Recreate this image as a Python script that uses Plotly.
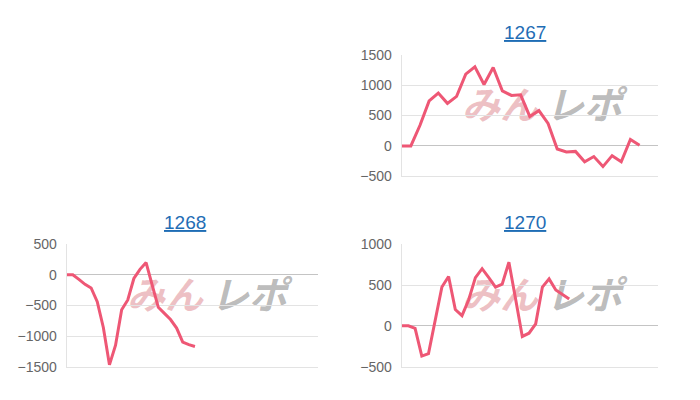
import plotly.graph_objects as go

# 1267
x_1267 = list(range(27))
y_1267 = [0, 0, 340, 740, 870, 700, 815, 1180, 1300, 1010, 1290, 905, 830, 840,
          485, 580, 370, -50, -100, -90, -260, -175, -340, -160, -260, 105, 10]

# 1268
x_1268 = list(range(22))
y_1268 = [0, 0, -75, -155, -215, -440, -860, -1470, -1150, -570, -410, -60, 90,
          200, -170, -530, -630, -730, -870, -1100, -1140, -1170]

# 1270
x_1270 = list(range(26))
y_1270 = [0, 0, -30, -370, -340, 70, 475, 605, 200, 125, 320, 590, 700, 590, 475,
          510, 780, 330, -130, -90, 25, 475, 575, 440, 390, 330]

W, H = 700, 400
OFF = 8  # page body margin
LINE = "#ee5775"
GRID = "#e3e3e3"
TICK = "#666666"
LINK = "#1f6db5"


def px(x):
    return (x - OFF) / W


def py(y):
    return 1 - (y - OFF) / H


panels = [
    # name, x, y, x range, y range, plot px box (x0, x1, ytop, ybot), title centre
    ("1267", x_1267, y_1267, [0, 28.05], [-500, 1500], (401.7, 658.3, 48.3, 175), (525, 25)),
    ("1268", x_1268, y_1268, [0, 41.2], [-1500, 500], (66.7, 318.3, 245.7, 373.3), (184.5, 223.5)),
    ("1270", x_1270, y_1270, [0, 38.3], [-500, 1000], (401.7, 658.3, 245.7, 373.3), (525, 223.5)),
]

fig = go.Figure()
annotations = []
shapes = []

for i, (name, xs, ys, xr, yr, box, tpos) in enumerate(panels, start=1):
    x0, x1, yt, yb = box
    xa = "xaxis" if i == 1 else f"xaxis{i}"
    ya = "yaxis" if i == 1 else f"yaxis{i}"
    xref = "x" if i == 1 else f"x{i}"
    yref = "y" if i == 1 else f"y{i}"

    fig.add_trace(go.Scatter(
        x=xs, y=ys, mode="lines", xaxis=xref, yaxis=yref,
        line=dict(color=LINE, width=3), showlegend=False,
        hoverinfo="y"
    ))

    fig.layout[xa] = dict(
        domain=[px(x0), px(x1)], range=xr, anchor=yref,
        showticklabels=False, showgrid=False, zeroline=False,
        showline=True, linecolor=GRID, linewidth=1,
        fixedrange=True
    )
    fig.layout[ya] = dict(
        domain=[py(yb), py(yt)], range=yr, anchor=xref,
        dtick=500, tick0=0, showgrid=True, gridcolor=GRID, gridwidth=1,
        zeroline=True, zerolinecolor="#c4c4c4", zerolinewidth=1,
        showline=True, linecolor=GRID, linewidth=1,
        ticks="", ticklabelstandoff=6,
        tickfont=dict(family="Liberation Sans, Arial", size=14, color=TICK),
        fixedrange=True
    )

    annotations.append(dict(
        text=f"<u>{name}</u>", x=px(tpos[0]), y=py(tpos[1]),
        xref="paper", yref="paper", showarrow=False,
        xanchor="center", yanchor="middle",
        font=dict(family="Liberation Sans, Arial", size=19, color=LINK)
    ))

    # watermark logo (text approximation), kept under the line
    wcx = 542 if i != 2 else 207
    wcy = 104 if i == 1 else 302
    for txt, c, a, b in [("みん", "rgba(226,150,156,0.6)", -84, 0),
                         ("レポ", "rgba(150,150,150,0.65)", 0, 84)]:
        shapes.append(dict(
            type="rect", xref="paper", yref="paper", layer="between",
            x0=px(wcx + a), x1=px(wcx + b), y0=py(wcy + 18), y1=py(wcy - 18),
            line=dict(width=0), fillcolor="rgba(0,0,0,0)",
            label=dict(text=f"<b><i>{txt}</i></b>", textposition="middle center",
                       font=dict(family="Noto Sans CJK JP", size=38, color=c))
        ))

fig.update_layout(
    width=W, height=H,
    margin=dict(l=0, r=0, t=0, b=0),
    paper_bgcolor="white", plot_bgcolor="white",
    annotations=annotations, shapes=shapes,
    showlegend=False
)

fig.write_html("out.html")
